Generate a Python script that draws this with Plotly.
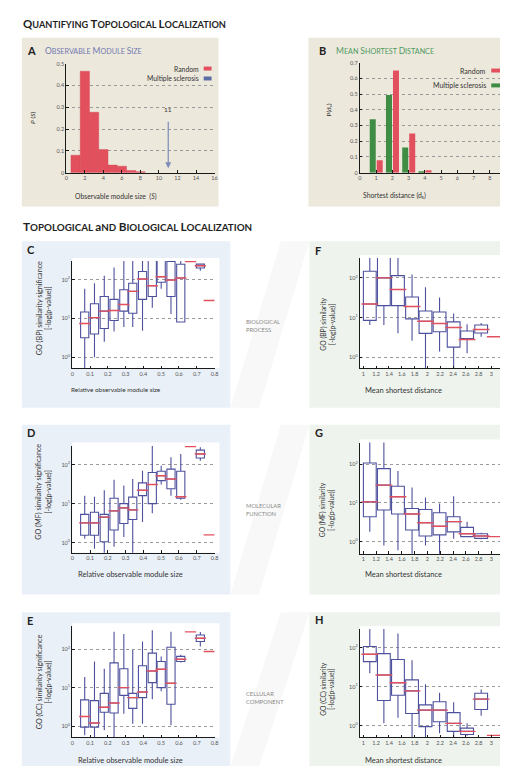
import plotly.graph_objects as go

W, H = 508, 766
FONT = "Lato"
RED = "#e2505e"
BLUE_BOX = "#4d509c"
GREEN = "#3f8c44"
MS_BLUE = "#5b6fa3"

def px(x):
    return x / W

def py(y):
    return 1 - y / H

# ---------------- data ----------------
# Panel A: observable module size distribution
a_sizes = [1, 2, 3, 4, 5, 6, 7, 8]
a_random = [0.08, 0.465, 0.277, 0.106, 0.035, 0.03, 0.01, 0.005]
a_ms_size = 11
a_xticks = [0, 2, 4, 6, 8, 10, 12, 14, 16]
a_yticks = [0, 0.1, 0.2, 0.3, 0.4, 0.5]

# Panel B: shortest distance distribution
b_dist = [1, 2, 3, 4]
b_ms = [0.34, 0.494, 0.16, 0.01]
b_random = [0.08, 0.65, 0.25, 0.015]
b_xticks = [0, 1, 2, 3, 4, 5, 6, 7, 8, 9]
b_yticks = [0, 0.1, 0.2, 0.3, 0.4, 0.5, 0.6, 0.7]

# Panels C/D/E: relative observable module size bins
rel_pos = [0.07, 0.125, 0.18, 0.235, 0.29, 0.34, 0.395, 0.45, 0.5, 0.555, 0.61, 0.665, 0.72, 0.77]
rel_ticks = [0, 0.1, 0.2, 0.3, 0.4, 0.5, 0.6, 0.7, 0.8]

c_q1 = [3.2, 4.0, 5.5, 8.9, 15.5, 13.7, 31, 37, 86, 37, 8.1, None, 199, None]
c_med = [7.4, 10.5, 15.5, 16, 23, 50, 104, 70, 119, 98, 110, 295, 228, 29]
c_q3 = [14.7, 24, 37, 31, 55, 81, 163, 400, 400, 295, 250, None, 251, None]
c_lo = [0.3, 1.0, 2.5, 4.6, 6, 6, 4.8, 19, 58, 13, 8.1, None, 170, None]
c_hi = [58, 81, 126, 205, 400, 400, 400, 400, 400, 400, 400, None, 262, None]

d_q1 = [1.55, 1.55, 1.05, 2.1, 3.1, 3.9, 16, 10, 39, 24, 13.8, None, 148, None]
d_med = [3.2, 3.2, 4.5, 6.5, 7.8, 6.9, 22, 31, 52, 43, 15, 290, 187, 1.58]
d_q3 = [5.3, 6, 5.3, 13.8, 10, 14.7, 34, 63, 68, 77, 68, None, 236, None]
d_lo = [1.26, 0.7, 0.3, 0.78, 1.4, 0.3, 3.4, 5.7, 31, 16, 12.5, None, 126, None]
d_hi = [16, 15, 22, 41, 29, 43, 70, 300, 94, 154, 187, None, 280, None]

e_q1 = [0.94, 0.94, 2.3, 2.2, 6.3, 2.9, 5.5, 13.5, 10, 3.7, 48, None, 158, None]
e_med = [1.78, 1.2, 3.1, 4, 10, 5.5, 7.7, 27, 30, 13, 55, 283, 192, 87]
e_q3 = [4.8, 4.6, 7.1, 44, 31, 7.1, 37, 79, 48, 112, 65, None, 234, None]
e_lo = [0.58, 0.3, 0.78, 0.3, 2.1, 1.15, 1.15, 5, 8.1, 1.05, 45, None, 117, None]
e_hi = [19, 48, 31, 283, 247, 96, 158, 313, 65, 283, 72, None, 280, None]

# Panels F/G/H: mean shortest distance bins
dist_pos = [1.1, 1.32, 1.54, 1.76, 1.97, 2.19, 2.41, 2.62, 2.84, 3.06]
dist_ticks = [1, 1.2, 1.4, 1.6, 1.8, 2, 2.2, 2.4, 2.6, 2.8, 3, 3.2]
dist_ticktext = ["1", "1.2", "1.4", "1.6", "1.8", "2", "2.2", "2.4", "2.6", "2.8", "3", "3.2"]

f_q1 = [8.5, 20, 20, 9.3, 4, 4.4, 1.8, 2.8, 4.1, None]
f_med = [22, 100, 51, 19, 8.1, 7.1, 5.6, 2.8, 5, 3.3]
f_q3 = [147, 400, 114, 33, 14.7, 13.8, 7.8, 4.6, 6.5, None]
f_lo = [6.5, 6.5, 4, 2.6, 0.3, 1.4, 0.3, 1.26, 3.3, None]
f_hi = [400, 400, 400, 121, 58, 32, 12.6, 6.8, 7.3, None]

g_q1 = [4.4, 6.6, 5.2, 2, 1.4, 1.5, 1.8, 1.35, 1.22, None]
g_med = [10.7, 29, 14.5, 5.2, 3.1, 2.5, 3.3, 1.6, 1.4, 1.35]
g_q3 = [108, 77, 27, 7.2, 6.8, 5.6, 4.4, 2.35, 1.6, None]
g_lo = [1.8, 0.8, 0.6, 0.3, 0.8, 0.3, 1.2, 1.35, 1.15, None]
g_hi = [500, 500, 67, 25, 13.8, 9.7, 15, 3.3, 1.7, None]

h_q1 = [44, 4.4, 6, 2.05, 0.94, 1.26, 0.71, 0.59, 2.6, None]
h_med = [68, 20, 12.6, 7.8, 2.5, 2.5, 1.14, 0.71, 4.8, 0.56]
h_q3 = [108, 71, 50, 15, 3.4, 4.1, 2.15, 0.86, 6.8, None]
h_lo = [22, 1.15, 1.6, 0.3, 0.3, 0.64, 0.3, 0.55, 1.78, None]
h_hi = [400, 400, 233, 48, 11.5, 7, 4, 1.15, 8.5, None]

log_ticks = [1, 10, 100]
log_ticktext = ["10<sup>0</sup>", "10<sup>1</sup>", "10<sup>2</sup>"]

# ---------------- figure ----------------
fig = go.Figure()

# Panel A
fig.add_trace(go.Bar(x=a_sizes, y=a_random, width=1, marker=dict(color=RED, line=dict(color="#d24352", width=0.4)),
                     xaxis="x", yaxis="y", showlegend=False))
# Panel B
fig.add_trace(go.Bar(x=b_dist, y=b_ms, width=0.37, offset=-0.39, marker=dict(color=GREEN, line=dict(width=0)),
                     xaxis="x2", yaxis="y2", showlegend=False))
fig.add_trace(go.Bar(x=b_dist, y=b_random, width=0.37, offset=0.04, marker=dict(color=RED, line=dict(width=0)),
                     xaxis="x2", yaxis="y2", showlegend=False))


def add_boxes(pos, q1, med, q3, lo, hi, xa, ya, bw, msize):
    idx = [i for i in range(len(pos)) if q1[i] is not None]
    fig.add_trace(go.Box(
        x=[pos[i] for i in idx], q1=[q1[i] for i in idx], median=[med[i] for i in idx],
        q3=[q3[i] for i in idx], lowerfence=[lo[i] for i in idx], upperfence=[hi[i] for i in idx],
        width=bw, whiskerwidth=0, boxpoints=False, fillcolor="rgba(0,0,0,0)",
        line=dict(color=BLUE_BOX, width=1.1), xaxis=xa, yaxis=ya, showlegend=False))
    fig.add_trace(go.Scatter(
        x=pos, y=med, mode="markers", cliponaxis=True,
        marker=dict(symbol="line-ew", size=msize, color=RED, line=dict(color=RED, width=1.4)),
        xaxis=xa, yaxis=ya, showlegend=False))


add_boxes(rel_pos, c_q1, c_med, c_q3, c_lo, c_hi, "x3", "y3", 0.046, 8)
add_boxes(dist_pos, f_q1, f_med, f_q3, f_lo, f_hi, "x4", "y4", 0.2, 12)
add_boxes(rel_pos, d_q1, d_med, d_q3, d_lo, d_hi, "x5", "y5", 0.046, 8)
add_boxes(dist_pos, g_q1, g_med, g_q3, g_lo, g_hi, "x6", "y6", 0.2, 12)
add_boxes(rel_pos, e_q1, e_med, e_q3, e_lo, e_hi, "x7", "y7", 0.046, 8)
add_boxes(dist_pos, h_q1, h_med, h_q3, h_lo, h_hi, "x8", "y8", 0.2, 12)


def axbase(domain, anchor, **kw):
    d = dict(domain=domain, anchor=anchor, showline=True, linecolor="#1a1a1a", linewidth=1.2,
             ticks="inside", ticklen=2.5, tickwidth=1, tickcolor="#1a1a1a",
             tickfont=dict(family=FONT, size=5.5, color="#555"), zeroline=False, showgrid=False,
             fixedrange=True)
    d.update(kw)
    return d


GRID = dict(showgrid=True, gridcolor="#9a9a9a", griddash="dot", gridwidth=0.8)

layout_axes = {}
# A
layout_axes["xaxis"] = axbase([px(57), px(207)], "y", range=[0, 16], tickvals=a_xticks)
layout_axes["yaxis"] = axbase([py(163), py(53)], "x", range=[0, 0.5], tickvals=a_yticks,
                              ticktext=["0", "0.1", "0.2", "0.3", "0.4", "0.5"], **GRID)
# B
layout_axes["xaxis2"] = axbase([px(354), px(502)], "y2", range=[0, 9], tickvals=b_xticks)
layout_axes["yaxis2"] = axbase([py(163), py(52)], "x2", range=[0, 0.7], tickvals=b_yticks,
                               ticktext=["0", "0.1", "0.2", "0.3", "0.4", "0.5", "0.6", "0.7"], **GRID)

rows = [  # (xaxis name, yaxis name, x-domain px, y top, y bottom, log range, kind)
    ("xaxis3", "yaxis3", (63, 207), 252, 360, [-0.28, 2.48], "rel"),
    ("xaxis4", "yaxis4", (354, 504), 249, 360, [-0.275, 2.5], "dist"),
    ("xaxis5", "yaxis5", (63, 207), 438, 546, [-0.26, 2.49], "rel"),
    ("xaxis6", "yaxis6", (354, 504), 435, 547, [-0.31, 2.56], "dist"),
    ("xaxis7", "yaxis7", (63, 207), 620, 732, [-0.29, 2.6], "rel"),
    ("xaxis8", "yaxis8", (354, 504), 623, 732, [-0.3, 2.48], "dist"),
]
for xn, yn, (x0, x1), yt, yb, lr, kind in rows:
    xa_id = "x" + xn[5:]
    ya_id = "y" + yn[5:]
    if kind == "rel":
        layout_axes[xn] = axbase([px(x0), px(x1)], ya_id, range=[0, 0.8], tickvals=rel_ticks,
                                 ticktext=["0", "0.1", "0.2", "0.3", "0.4", "0.5", "0.6", "0.7", "0.8"])
    else:
        layout_axes[xn] = axbase([px(x0), px(x1)], ya_id, range=[0.944, 3.26], tickvals=dist_ticks,
                                 ticktext=dist_ticktext)
    layout_axes[yn] = axbase([py(yb), py(yt)], xa_id, type="log", range=lr, tickvals=log_ticks,
                             ticktext=log_ticktext, **GRID)

# ---------------- decorations ----------------
shapes = []

def rect(x0, y0, x1, y1, color, line=None):
    shapes.append(dict(type="rect", xref="paper", yref="paper", x0=px(x0), x1=px(x1), y0=py(y1), y1=py(y0),
                       fillcolor=color, line=dict(width=0) if line is None else line, layer="below"))

BEIGE = "#ede8dc"
LBLUE = "#eaf0f7"
LGREEN = "#eef3ee"
rect(12, 27, 211, 197, BEIGE)
rect(302, 27, 508, 197, BEIGE)
for top, bot in [(232, 400), (417, 588), (606, 762)]:
    rect(12, top, 223, bot, LBLUE)
    rect(303, top, 508, bot, LGREEN)
    # faint diagonal band in the middle column
    shapes.append(dict(type="path", xref="paper", yref="paper", layer="below",
                       path=f"M {px(223)},{py(bot)} L {px(252)},{py(bot)} L {px(303)},{py(top)} L {px(274)},{py(top)} Z",
                       fillcolor="#f8f8f8", line=dict(width=0)))
# white plot areas
for xn, yn, (x0, x1), yt, yb, lr, kind in rows:
    rect(x0, yt - 3, 508 if x1 > 300 else x1 + 5, yb, "white")

# legend swatches
rect(196, 56, 204, 60, RED)
rect(196, 66, 204, 70, MS_BLUE)
rect(487, 58, 496, 62, RED)
rect(487, 73, 496, 77, GREEN)

annotations = []

def ann(text, x, y, size, color="#222", xanchor="left", yanchor="middle", angle=0, align="left"):
    annotations.append(dict(text=text, x=px(x), y=py(y), xref="paper", yref="paper", showarrow=False,
                            xanchor=xanchor, yanchor=yanchor, textangle=angle, align=align,
                            font=dict(family=FONT, size=size, color=color)))

def sc(text, big):
    out = []
    for w in text.split(" "):
        out.append(f"<span style='font-size:{big}px'>{w[0]}</span>{w[1:].upper()}")
    return " ".join(out)

ann("<b>" + sc("Quantifying Topological Localization", 11.5) + "</b>", 11, 13, 9.2, "#1f1f1f")
ann("<b>" + sc("Topological and Biological Localization", 11.8) + "</b>", 11, 217, 9.8, "#1f1f1f")

ann("<b>A</b>", 15, 40, 11)
ann(sc("Observable Module Size", 8.5), 33, 40, 7.2, "#7079b0")
ann("<b>B</b>", 311, 40, 11)
ann(sc("Mean Shortest Distance", 8.5), 328, 40, 7.2, "#4d9a62")
for lab, x, y in [("C", 15, 240), ("D", 15, 425), ("E", 15, 614), ("F", 307, 241), ("G", 307, 425), ("H", 307, 613)]:
    ann(f"<b>{lab}</b>", x, y, 11)

# legends
ann("Random", 193, 58, 6.8, "#333", xanchor="right")
ann("Multiple sclerosis", 193, 68, 6.8, "#333", xanchor="right")
ann("Random", 484, 60, 7, "#333", xanchor="right")
ann("Multiple sclerosis", 484, 75, 7, "#333", xanchor="right")

# axis titles
ann("Observable module size  (<i>S</i>)", 107, 187, 6.8, "#333", xanchor="center")
ann("<i>P</i> (<i>S</i>)", 22, 108, 6.5, "#333", xanchor="center", angle=-90)
ann("Shortest distance (d<sub>s</sub>)", 389, 186, 6.8, "#333", xanchor="center")
ann("P(d<sub>s</sub>)", 323, 100, 6.5, "#333", xanchor="center", angle=-90)

ann("Relative observable module size", 107, 381, 6.4, "#333", xanchor="center")
ann("Relative observable module size", 122, 568, 7.5, "#333", xanchor="center")
ann("Relative observable module size", 122, 755, 7.5, "#333", xanchor="center")
for y in (382, 568, 755):
    ann("Mean shortest distance", 398, y, 7.5, "#333", xanchor="center")

ann("GO (BP) similarity significance<br>[-log(p-value)]", 34, 300, 7.2, "#333", xanchor="center", angle=-90, align="center")
ann("GO (MF) similarity significance<br>[-log(p-value)]", 34, 485, 7.2, "#333", xanchor="center", angle=-90, align="center")
ann("GO (CC) similarity significance<br>[-log(p-value)]", 34, 676, 7.2, "#333", xanchor="center", angle=-90, align="center")
ann("GO (BP) similarity<br>[-log(p-value)]", 321, 316, 6.8, "#333", xanchor="center", angle=-90, align="center")
ann("GO (MF) similarity<br>[-log(p-value)]", 321, 503, 6.8, "#333", xanchor="center", angle=-90, align="center")
ann("GO (CC) similarity<br>[-log(p-value)]", 321, 683, 6.8, "#333", xanchor="center", angle=-90, align="center")

# middle labels
ann("BIOLOGICAL<br>PROCESS", 237, 317, 5.8, "#8a8a8a")
ann("MOLECULAR<br>FUNCTION", 237, 502, 5.8, "#8a8a8a")
ann("CELLULAR<br>COMPONENT", 237, 692, 5.8, "#8a8a8a")

# arrow for multiple sclerosis module size in panel A
annotations.append(dict(x=a_ms_size, y=0.02, ax=a_ms_size, ay=0.24, xref="x", yref="y", axref="x", ayref="y",
                        showarrow=True, arrowhead=2, arrowsize=1, arrowwidth=1.2, arrowcolor="#7d8cb8", text=""))
annotations.append(dict(x=a_ms_size, y=0.265, xref="x", yref="y", showarrow=False, text=str(a_ms_size),
                        font=dict(family=FONT, size=6.5, color="#333"), yanchor="bottom"))

fig.update_layout(
    width=W, height=H, margin=dict(l=0, r=0, t=0, b=0),
    paper_bgcolor="white", plot_bgcolor="rgba(0,0,0,0)",
    barmode="overlay", showlegend=False,
    font=dict(family=FONT, size=6, color="#333"),
    shapes=shapes, annotations=annotations,
    **layout_axes,
)

fig.write_html("out.html")
